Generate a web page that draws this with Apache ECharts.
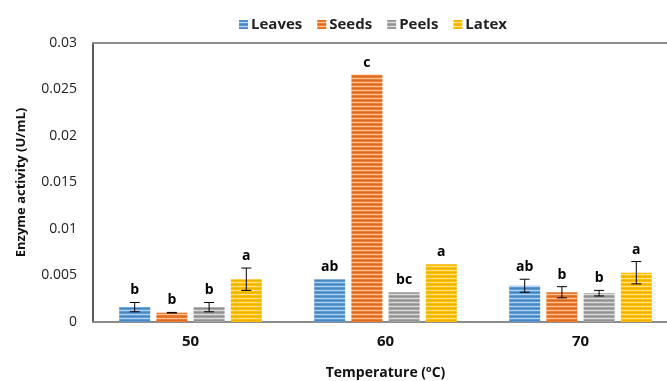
<!DOCTYPE html>
<html><head><meta charset="utf-8">
<script src="https://cdn.jsdelivr.net/npm/echarts@6/dist/echarts.min.js"></script>
<style>html,body{margin:0;padding:0;background:#fff}#c{width:667px;height:381px}</style>
</head><body><div id="c"></div>
<script>
const categories = ['50', '60', '70'];
const seriesNames = ['Leaves', 'Seeds', 'Peels', 'Latex'];
const leaves = [0.0016, 0.0046, 0.0039];
const seeds = [0.0010, 0.0266, 0.0032];
const peels = [0.0016, 0.0032, 0.0031];
const latex = [0.0046, 0.0062, 0.0053];
const leavesErr = [0.0005, 0, 0.0007];
const seedsErr = [0.00003, 0, 0.0006];
const peelsErr = [0.0005, 0, 0.0003];
const latexErr = [0.0012, 0, 0.0012];
const leavesLetters = ['b', 'ab', 'ab'];
const seedsLetters = ['b', 'c', 'b'];
const peelsLetters = ['b', 'bc', 'b'];
const latexLetters = ['a', 'a', 'a'];
const yTicks = [0, 0.005, 0.01, 0.015, 0.02, 0.025, 0.03];

const values = [leaves, seeds, peels, latex];
const errs = [leavesErr, seedsErr, peelsErr, latexErr];
const letters = [leavesLetters, seedsLetters, peelsLetters, latexLetters];
const baseColors = ['#5B9BD5', '#ED7D31', '#A5A5A5', '#FFC000'];
const darkColors = ['#4A86C0', '#E06A1E', '#929292', '#F0B000'];
const lightColors = ['#B5D2EE', '#F8C4A0', '#DCDCDC', '#FFE38A'];

function stripe(i) {
  const c = document.createElement('canvas');
  c.width = 4; c.height = 4;
  const g = c.getContext('2d');
  g.fillStyle = baseColors[i]; g.fillRect(0, 0, 4, 4);
  g.fillStyle = darkColors[i]; g.fillRect(0, 0, 4, 1);
  g.fillStyle = lightColors[i]; g.fillRect(0, 2, 4, 1);
  return c;
}

const chart = echarts.init(document.getElementById('c'), null, {renderer: 'canvas'});
const BW = 31, GAP = 6.2;
const font = 'Open Sans';

const series = [];
seriesNames.forEach((name, i) => {
  series.push({
    name: name, type: 'bar', data: values[i], barWidth: BW, barGap: '20%',
    itemStyle: {color: {image: stripe(i), repeat: 'repeat'}},
    z: 2
  });
});
seriesNames.forEach((name, i) => {
  series.push({
    type: 'custom', name: name + '_err', silent: true, z: 5,
    data: values[i].map((v, k) => [k, v, errs[i][k]]),
    renderItem: function (params, api) {
      const k = api.value(0), v = api.value(1), e = api.value(2), lt = letters[i][k];
      const c = api.coord([k, v]);
      const off = -(4 * BW + 3 * GAP) / 2 + i * (BW + GAP) + BW / 2;
      const x = c[0] + off;
      const children = [];
      let topY = c[1];
      if (e > 0) {
        const hi = api.coord([k, v + e])[1];
        const lo = api.coord([k, v - e])[1];
        const st = {stroke: '#000', lineWidth: 1};
        children.push({type: 'line', shape: {x1: x, y1: hi, x2: x, y2: lo}, style: st});
        children.push({type: 'line', shape: {x1: x - 5, y1: hi, x2: x + 5, y2: hi}, style: st});
        children.push({type: 'line', shape: {x1: x - 5, y1: lo, x2: x + 5, y2: lo}, style: st});
        topY = hi;
      }
      children.push({type: 'text', style: {text: lt, x: x, y: topY - 5, textAlign: 'center', textVerticalAlign: 'bottom', font: 'bold 14px "' + font + '"', fill: '#000'}});
      return {type: 'group', children: children};
    }
  });
});

chart.setOption({
  animation: false,
  textStyle: {fontFamily: font},
  legend: {
    data: seriesNames, top: 12, left: 234, itemWidth: 9, itemHeight: 9, itemGap: 15, icon: 'rect',
    textStyle: {fontWeight: 'bold', fontSize: 15, color: '#222', fontFamily: font, padding: [0, 0, 0, -2]}
  },
  grid: {left: 93, right: -11, top: 43, bottom: 59, outerBoundsMode: 'none', containLabel: false},
  xAxis: [{
    type: 'category', data: categories,
    axisLine: {lineStyle: {color: '#8c8c8c', width: 2}},
    axisTick: {show: false},
    axisLabel: {fontWeight: 'bold', fontSize: 15, color: '#111', margin: 12},
    name: 'Temperature ({sup|o}C)', nameLocation: 'middle', nameGap: 43,
    nameTextStyle: {fontWeight: 'bold', fontSize: 14, color: '#111',
      rich: {sup: {fontSize: 9, fontWeight: 'bold', verticalAlign: 'top', padding: [0, 0, 8, 0]}}}
  }, {
    type: 'category', data: categories, position: 'top',
    axisLine: {lineStyle: {color: '#8c8c8c', width: 2}},
    axisTick: {show: false}, axisLabel: {show: false}
  }],
  yAxis: {
    type: 'value', min: 0, max: 0.03, interval: 0.005,
    axisLine: {show: true, lineStyle: {color: '#222', width: 1.5}},
    axisTick: {show: false}, splitLine: {show: false},
    axisLabel: {fontSize: 14, color: '#222', margin: 16, formatter: v => {
      const t = yTicks.find(x => Math.abs(x - v) < 1e-9); return t === undefined ? '' : String(+t.toFixed(3)); }},
    name: 'Enzyme activity (U/mL)', nameLocation: 'middle', nameGap: 65,
    nameTextStyle: {fontWeight: 'bold', fontSize: 13, color: '#111'}
  },
  series: series
});
</script></body></html>
